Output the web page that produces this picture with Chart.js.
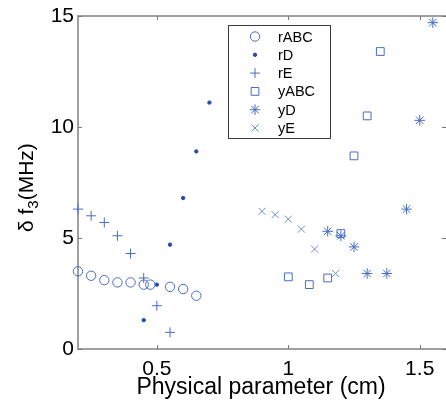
<!DOCTYPE html>
<html>
<head>
<meta charset="utf-8">
<script src="https://cdn.jsdelivr.net/npm/chart.js@4"></script>
<style>
html,body{margin:0;padding:0;background:#fff;}
#wrap{width:446px;height:405px;position:relative;}
</style>
</head>
<body>
<div id="wrap"><canvas id="c" width="446" height="405"></canvas></div>
<script>
// ---- data ----
const rABC_x = [0.2, 0.25, 0.3, 0.35, 0.4, 0.45, 0.475, 0.55, 0.6, 0.65];
const rABC_y = [3.5, 3.3, 3.1, 3.0, 3.0, 2.9, 2.9, 2.8, 2.7, 2.4];
const rD_x = [0.45, 0.5, 0.55, 0.6, 0.65, 0.7];
const rD_y = [1.3, 2.9, 4.7, 6.8, 8.9, 11.1];
const rE_x = [0.2, 0.25, 0.3, 0.35, 0.4, 0.45, 0.5, 0.55];
const rE_y = [6.3, 6.0, 5.7, 5.1, 4.3, 3.2, 1.95, 0.75];
const yABC_x = [1.0, 1.08, 1.15, 1.2, 1.25, 1.3, 1.35];
const yABC_y = [3.25, 2.9, 3.2, 5.2, 8.7, 10.5, 13.4];
const yD_x = [1.15, 1.2, 1.25, 1.3, 1.375, 1.45, 1.5, 1.55];
const yD_y = [5.3, 5.1, 4.6, 3.4, 3.4, 6.3, 10.3, 14.7];
const yE_x = [0.9, 0.95, 1.0, 1.05, 1.1, 1.18];
const yE_y = [6.2, 6.05, 5.85, 5.4, 4.5, 3.4];

const seriesNames = ['rABC', 'rD', 'rE', 'yABC', 'yD', 'yE'];
const xTicks = [0.5, 1, 1.5];
const yTicks = [0, 5, 10, 15];
const xTitle = 'Physical parameter (cm)';
const yTitleMain = 'δ f';
const yTitleSub = '3';
const yTitleEnd = '(MHz)';

const pts = (xs, ys) => xs.map((x, i) => ({x: x, y: ys[i]}));
const BLUE = 'rgb(72,108,196)';
const DARK = 'rgb(40,72,170)';
const FONT = 'Liberation Sans, Arial, sans-serif';

const styles = [
  {pointStyle: 'circle', radius: 4.7, color: BLUE, fill: 'rgba(0,0,0,0)'},
  {pointStyle: 'circle', radius: 1.7, color: DARK, fill: DARK},
  {pointStyle: 'cross', radius: 5, color: BLUE, fill: 'rgba(0,0,0,0)'},
  {pointStyle: 'rect', radius: 5.5, color: BLUE, fill: 'rgba(0,0,0,0)'},
  {pointStyle: 'star', radius: 5.3, color: BLUE, fill: 'rgba(0,0,0,0)'},
  {pointStyle: 'crossRot', radius: 5, color: 'rgb(110,140,205)', fill: 'rgba(0,0,0,0)'}
];
const dataSets = [pts(rABC_x, rABC_y), pts(rD_x, rD_y), pts(rE_x, rE_y), pts(yABC_x, yABC_y), pts(yD_x, yD_y), pts(yE_x, yE_y)];

const datasets = dataSets.map((d, i) => ({
  label: seriesNames[i],
  data: d,
  showLine: false,
  clip: false,
  pointStyle: styles[i].pointStyle,
  pointRadius: styles[i].radius,
  pointHoverRadius: styles[i].radius,
  pointBorderColor: styles[i].color,
  pointBackgroundColor: styles[i].fill,
  pointBorderWidth: 1,
  borderColor: styles[i].color,
  backgroundColor: styles[i].fill
}));

const AXIS_GREY = 'rgb(160,160,160)';

const framePlugin = {
  id: 'frame',
  afterDatasetsDraw(chart) {
    const ctx = chart.ctx, a = chart.chartArea;
    const xs = chart.scales.x, ys = chart.scales.y;
    ctx.save();
    // top border
    ctx.strokeStyle = AXIS_GREY;
    ctx.lineWidth = 2;
    ctx.beginPath();
    ctx.moveTo(a.left, a.top); ctx.lineTo(a.right + 2, a.top);
    ctx.stroke();
    // inward ticks
    ctx.strokeStyle = 'rgb(120,120,120)';
    ctx.lineWidth = 1;
    ctx.beginPath();
    xTicks.forEach(v => {
      const px = Math.round(xs.getPixelForValue(v)) + 0.5;
      ctx.moveTo(px, a.bottom); ctx.lineTo(px, a.bottom - 4);
      ctx.moveTo(px, a.top); ctx.lineTo(px, a.top + 4);
    });
    yTicks.forEach(v => {
      const py = Math.round(ys.getPixelForValue(v)) + 0.5;
      ctx.moveTo(a.left, py); ctx.lineTo(a.left + 4, py);
      ctx.moveTo(a.right, py); ctx.lineTo(a.right - 4, py);
    });
    ctx.stroke();
    // x-axis title
    ctx.fillStyle = '#000';
    ctx.font = '23px ' + FONT;
    ctx.textAlign = 'center';
    ctx.textBaseline = 'alphabetic';
    ctx.fillText(xTitle, 261, 394);
    // y-axis title with subscript
    ctx.translate(33, 232);
    ctx.rotate(-Math.PI / 2);
    ctx.textAlign = 'left';
    ctx.font = '21px ' + FONT;
    ctx.fillText(yTitleMain, 0, 0);
    let w = ctx.measureText(yTitleMain).width;
    ctx.font = '15px ' + FONT;
    ctx.fillText(yTitleSub, w, 5);
    w += ctx.measureText(yTitleSub).width;
    ctx.font = '21px ' + FONT;
    ctx.fillText(yTitleEnd, w, 0);
    ctx.restore();
  },
  afterDraw(chart) {
    // legend box
    const ctx = chart.ctx;
    ctx.save();
    const L = 228.5, T = 25.5, R = 330.5, B = 138.5;
    ctx.fillStyle = '#fff';
    ctx.fillRect(L, T, R - L, B - T);
    ctx.strokeStyle = 'rgb(60,60,60)';
    ctx.lineWidth = 1;
    ctx.strokeRect(L, T, R - L, B - T);
    ctx.font = '14.5px ' + FONT;
    ctx.textBaseline = 'middle';
    ctx.textAlign = 'left';
    seriesNames.forEach((name, i) => {
      const y = 36.5 + i * 18.3;
      const s = styles[i];
      ctx.strokeStyle = s.color;
      ctx.fillStyle = s.fill;
      ctx.lineWidth = 1;
      Chart.helpers.drawPoint(ctx, {pointStyle: s.pointStyle, radius: s.radius, rotation: 0, borderWidth: 1}, 255, y);
      ctx.fillStyle = '#000';
      ctx.fillText(name, 278, y + 1);
    });
    ctx.restore();
  }
};

new Chart(document.getElementById('c'), {
  type: 'scatter',
  data: {datasets: datasets},
  options: {
    responsive: false,
    animation: false,
    events: [],
    layout: {autoPadding: false, padding: {left: 0, top: 16, right: 0, bottom: 0}},
    plugins: {legend: {display: false}, tooltip: {enabled: false}},
    scales: {
      x: {
        type: 'linear', min: 0.2, max: 1.6,
        afterBuildTicks: s => { s.ticks = xTicks.map(v => ({value: v})); },
        afterFit: s => { s.height = 56; s.paddingLeft = 0; s.paddingRight = 0; },
        grid: {display: true, drawOnChartArea: false, drawTicks: false},
        border: {display: true, color: AXIS_GREY, width: 2},
        ticks: {font: {size: 21, family: FONT}, color: '#000', padding: 8, maxRotation: 0,
                callback: v => String(v)}
      },
      y: {
        type: 'linear', min: 0, max: 15,
        afterBuildTicks: s => { s.ticks = yTicks.map(v => ({value: v})); },
        afterFit: s => { s.width = 78; s.paddingTop = 0; s.paddingBottom = 0; },
        grid: {display: true, drawOnChartArea: false, drawTicks: false},
        border: {display: true, color: AXIS_GREY, width: 2},
        ticks: {font: {size: 21, family: FONT}, color: '#000', padding: 4, callback: v => String(v)}
      }
    }
  },
  plugins: [framePlugin]
});
</script>
</body>
</html>
